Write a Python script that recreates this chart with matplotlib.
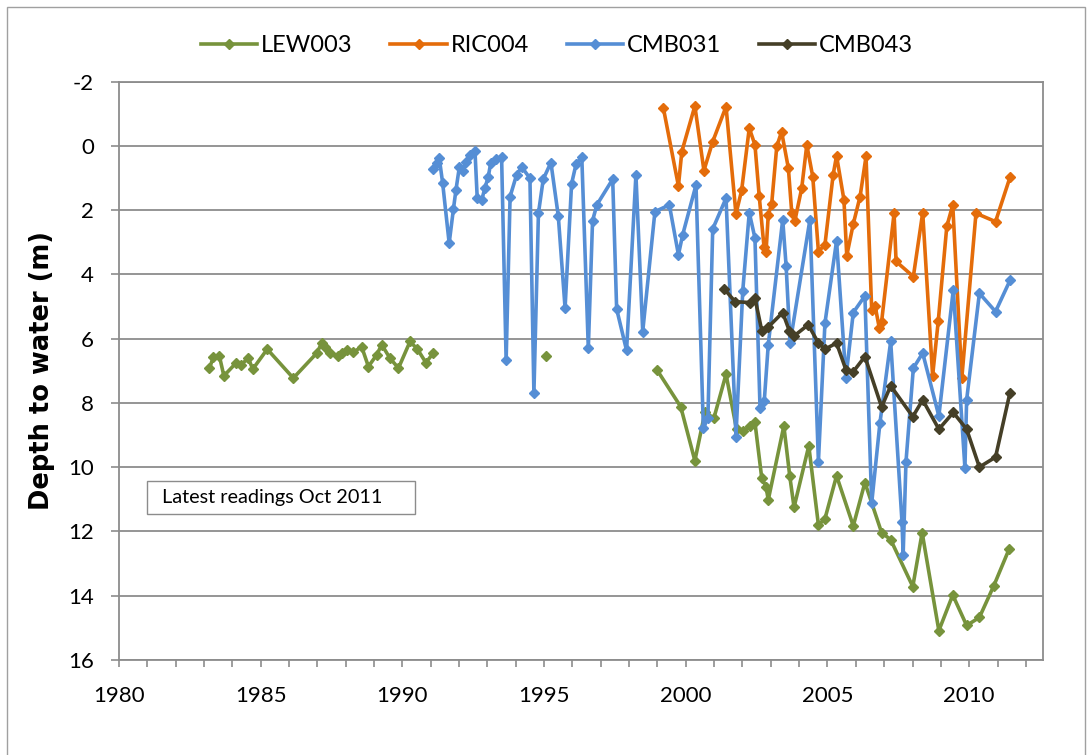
import numpy as np
import matplotlib
matplotlib.use('Agg')
import matplotlib.pyplot as plt
from matplotlib.patches import Rectangle

plt.rcParams['font.family'] = ['Lato', 'DejaVu Sans']
plt.rcParams['axes.unicode_minus'] = False

nan = np.nan

# LEW003 - gaps (nan) between the three groups of readings
lew_year = [1983.19, 1983.33, 1983.54, 1983.70, 1984.13, 1984.30, 1984.56, 1984.72, 1985.23,
            1986.15, 1986.98, 1987.15, 1987.27, 1987.45, 1987.74, 1987.86, 1988.06, 1988.27,
            1988.56, 1988.80, 1989.09, 1989.27, 1989.56, 1989.86, 1990.27, 1990.53, 1990.83,
            1991.09, 1993.0, 1995.07, 1997.0,
            1998.98, 1999.82, 2000.32, 2000.68, 2000.99, 2001.42, 2001.79, 2002.03, 2002.26,
            2002.44, 2002.68, 2002.83, 2002.91, 2003.46, 2003.67, 2003.82, 2004.34, 2004.68,
            2004.91, 2005.32, 2005.91, 2006.32, 2006.91, 2007.23, 2008.01, 2008.34, 2008.93,
            2009.42, 2009.91, 2010.36, 2010.87, 2011.41]
lew_depth = [6.92, 6.58, 6.54, 7.16, 6.76, 6.82, 6.61, 6.95, 6.33,
             7.23, 6.45, 6.14, 6.25, 6.45, 6.54, 6.45, 6.37, 6.43,
             6.25, 6.87, 6.51, 6.19, 6.61, 6.92, 6.09, 6.33, 6.75,
             6.45, nan, 6.54, nan,
             6.97, 8.12, 9.80, 8.28, 8.48, 7.11, 8.82, 8.89, 8.72,
             8.61, 10.34, 10.61, 11.02, 8.72, 10.29, 11.25, 9.34, 11.80,
             11.61, 10.27, 11.83, 10.48, 12.04, 12.26, 13.72, 12.04, 15.09,
             13.98, 14.93, 14.68, 13.69, 12.55]

# RIC004
ric_year = [1999.21, 1999.74, 1999.86, 2000.32, 2000.64, 2000.95, 2001.42, 2001.77, 2001.97,
            2002.24, 2002.44, 2002.59, 2002.76, 2002.83, 2002.91, 2003.03, 2003.21, 2003.38,
            2003.62, 2003.74, 2003.85, 2004.09, 2004.27, 2004.48, 2004.68, 2004.91, 2005.20,
            2005.32, 2005.58, 2005.68, 2005.91, 2006.15, 2006.36, 2006.56, 2006.68, 2006.83,
            2006.91, 2007.35, 2007.42, 2008.03, 2008.36, 2008.71, 2008.91, 2009.21, 2009.42,
            2009.74, 2010.24, 2010.93, 2011.44]
ric_depth = [-1.17, 1.25, 0.18, -1.24, 0.77, -0.13, -1.22, 2.12, 1.39,
             -0.55, -0.03, 1.56, 3.14, 3.32, 2.15, 1.81, 0.02, -0.44,
             0.70, 2.10, 2.33, 1.32, -0.03, 0.96, 3.29, 3.08, 0.90,
             0.31, 1.68, 3.42, 2.43, 1.58, 0.33, 5.11, 4.98, 5.68,
             5.47, 2.10, 3.60, 4.07, 2.08, 7.16, 5.44, 2.51, 1.84,
             7.23, 2.10, 2.36, 0.98]

# CMB031
cmb031_year = [1991.09, 1991.21, 1991.30, 1991.42, 1991.65, 1991.80, 1991.89, 1992.01, 1992.15,
               1992.24, 1992.39, 1992.56, 1992.64, 1992.80, 1992.91, 1993.03, 1993.12, 1993.30,
               1993.50, 1993.66, 1993.80, 1994.03, 1994.21, 1994.50, 1994.64, 1994.80, 1994.97,
               1995.24, 1995.50, 1995.74, 1995.97, 1996.13, 1996.33, 1996.56, 1996.71, 1996.86,
               1997.42, 1997.56, 1997.91, 1998.24, 1998.48, 1998.91, 1999.42, 1999.74, 1999.89,
               2000.36, 2000.62, 2000.78, 2000.95, 2001.42, 2001.77, 2002.01, 2002.24, 2002.44,
               2002.62, 2002.77, 2002.91, 2003.42, 2003.54, 2003.68, 2004.38, 2004.68, 2004.91,
               2005.32, 2005.65, 2005.91, 2006.32, 2006.56, 2006.85, 2007.23, 2007.63, 2007.67,
               2007.77, 2008.03, 2008.36, 2008.93, 2009.44, 2009.85, 2009.91, 2010.36, 2010.93,
               2011.44]
cmb031_depth = [0.73, 0.54, 0.38, 1.16, 3.03, 1.97, 1.37, 0.66, 0.77,
                0.49, 0.28, 0.15, 1.63, 1.68, 1.32, 0.96, 0.52, 0.42,
                0.35, 6.68, 1.58, 0.90, 0.66, 1.01, 7.70, 2.10, 1.04,
                0.52, 2.18, 5.05, 1.18, 0.56, 0.35, 6.30, 2.33, 1.84,
                1.04, 5.08, 6.37, 0.90, 5.78, 2.05, 1.84, 3.39, 2.77,
                1.22, 8.79, 8.47, 2.59, 1.63, 9.05, 4.51, 2.08, 2.87,
                8.17, 7.93, 6.19, 2.30, 3.74, 6.14, 2.30, 9.83, 5.52,
                2.96, 7.23, 5.19, 4.67, 11.12, 8.63, 6.09, 11.72, 12.73,
                9.83, 6.92, 6.45, 8.41, 4.48, 10.03, 7.91, 4.59, 5.16,
                4.19]

# CMB043
cmb043_year = [2001.35, 2001.74, 2002.27, 2002.44, 2002.68, 2002.91, 2003.42, 2003.65, 2003.82,
               2004.32, 2004.68, 2004.91, 2005.32, 2005.65, 2005.91, 2006.32, 2006.91, 2007.23,
               2008.01, 2008.36, 2008.93, 2009.44, 2009.91, 2010.36, 2010.93, 2011.44]
cmb043_depth = [4.45, 4.85, 4.88, 4.74, 5.75, 5.64, 5.19, 5.75, 5.92,
                5.57, 6.14, 6.33, 6.14, 6.97, 7.03, 6.56, 8.13, 7.47,
                8.43, 7.91, 8.82, 8.30, 8.82, 10.0, 9.69, 7.68]

series = [('LEW003', lew_year, lew_depth, '#77933C'),
          ('RIC004', ric_year, ric_depth, '#E46C0A'),
          ('CMB031', cmb031_year, cmb031_depth, '#558ED5'),
          ('CMB043', cmb043_year, cmb043_depth, '#453F27')]

fig = plt.figure(figsize=(10.92, 7.55), dpi=100)
ax = fig.add_axes([0.109, 0.126, 0.846, 0.766])

for name, x, y, c in series:
    ax.plot(x, y, color=c, linewidth=2.6, marker='D', markersize=5,
            markeredgecolor=c, markerfacecolor=c, label=name, zorder=3)

ax.set_xlim(1980, 2012.6)
ax.set_ylim(16, -2)
ax.set_yticks(np.arange(-2, 17, 2))
ax.set_xticks(np.arange(1980, 2013, 1))
ax.set_xticklabels([str(v) if v % 5 == 0 else '' for v in range(1980, 2013)])

ax.grid(axis='y', color='#8C8C8C', linewidth=1.3, zorder=0)
for s in ax.spines.values():
    s.set_color('#8C8C8C')
    s.set_linewidth(1.3)
ax.tick_params(axis='both', direction='out', color='#8C8C8C', width=1.2, length=5,
               labelsize=16)
ax.tick_params(axis='y', length=6, pad=12)
ax.tick_params(axis='x', pad=14)

ax.set_ylabel('Depth to water (m)', fontsize=18.5, fontweight='bold', family='DejaVu Sans')
ax.yaxis.set_label_coords(-0.069, 0.5)

# text box
ax.add_patch(Rectangle((0.03, 0.253), 0.29, 0.056, transform=ax.transAxes,
                       facecolor='white', edgecolor='#8C8C8C', linewidth=1.0, zorder=4))
ax.text(0.047, 0.281, 'Latest readings Oct 2011', transform=ax.transAxes,
        fontsize=14.3, va='center', ha='left', zorder=5)

fig.legend(loc='center', bbox_to_anchor=(0.51, 0.94), ncol=4, frameon=False,
           fontsize=17, handlelength=2.4, columnspacing=1.6, handletextpad=0.15)

# chart area border
fig.patches.append(Rectangle((7 / 1092, -0.01), 1078 / 1092, 1.01 - 7 / 755,
                             transform=fig.transFigure, fill=False,
                             edgecolor='#A0A0A0', linewidth=1.0))

fig.savefig('out.png', dpi=100)
